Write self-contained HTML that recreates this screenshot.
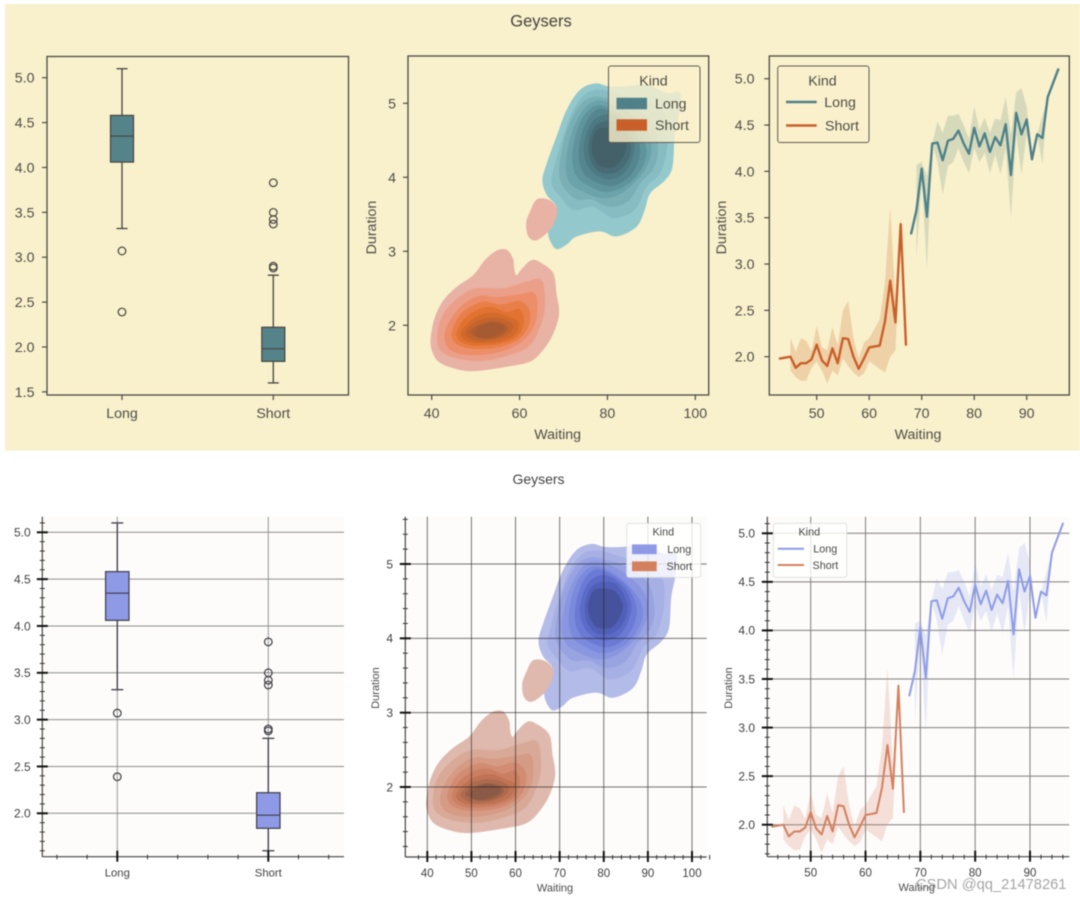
<!DOCTYPE html>
<html lang="en">
<head>
<meta charset="utf-8">
<title>Geysers</title>
<style>
html,body{margin:0;padding:0;background:#fff;width:1080px;height:899px;overflow:hidden}
svg{display:block;filter:blur(0.45px)}
text{font-family:"Liberation Sans",Arial,sans-serif}
</style>
</head>
<body>
<svg id="chart" xmlns="http://www.w3.org/2000/svg" width="1080" height="899" viewBox="0 0 1080 899">
  <rect x="0" y="0" width="1080" height="899" fill="#ffffff"/>
  <rect x="5" y="4" width="1075" height="446.5" fill="#f9f0cc"/>
  <text x="541" y="26.5" text-anchor="middle" font-size="16.5" fill="#44443f">Geysers</text>
  <text x="538.5" y="484" text-anchor="middle" font-size="14" fill="#444444">Geysers</text>
  <g id="top-box"></g>
  <g id="top-kde"></g>
  <g id="top-line"></g>
  <g id="bottom-box"></g>
  <g id="bottom-kde"></g>
  <g id="bottom-line"></g>
  <text x="916" y="889" font-size="14.7" fill="#8f8f8f" fill-opacity="0.8">CSDN @qq_21478261</text>
</svg>
<script>
/* ---------- data: box plot ---------- */
const boxCategories = ['Long', 'Short'];
const boxQ1 = [4.06, 1.84];
const boxMedian = [4.35, 1.98];
const boxQ3 = [4.58, 2.22];
const boxWhiskerLow = [3.32, 1.6];
const boxWhiskerHigh = [5.1, 2.8];
const boxOutliersLong = [3.07, 2.39];
const boxOutliersShort = [3.83, 3.5, 3.42, 3.37, 2.9, 2.88];

/* ---------- data: line plot ---------- */
const shortWaiting = [43, 45, 46, 47, 48, 49, 50, 51, 52, 53, 54, 55, 56, 57, 58, 59, 60, 62, 63, 64, 65, 66, 67];
const shortDuration = [1.98, 2.0, 1.88, 1.93, 1.93, 1.97, 2.13, 1.96, 1.9, 2.09, 1.93, 2.2, 2.19, 2.0, 1.87, 1.98, 2.1, 2.12, 2.38, 2.82, 2.37, 3.43, 2.13];
const shortBandWaiting = [45, 46, 47, 48, 49, 50, 51, 52, 53, 54, 55, 56, 57, 58, 59, 60, 62, 63, 64, 65, 66, 67];
const shortBandUpper = [2.2, 2.05, 2.2, 2.17, 2.06, 2.33, 2.1, 2.07, 2.32, 2.12, 2.5, 2.6, 2.2, 1.98, 2.15, 2.2, 2.4, 2.8, 3.62, 2.6, 3.5, 2.13];
const shortBandLower = [1.85, 1.78, 1.74, 1.74, 1.88, 1.95, 1.85, 1.71, 1.85, 1.8, 1.98, 1.9, 1.83, 1.78, 1.82, 1.95, 1.87, 1.83, 2.0, 2.07, 3.3, 2.13];
const longWaiting = [68, 69, 70, 71, 72, 73, 74, 75, 76, 77, 78, 79, 80, 81, 82, 83, 84, 85, 86, 87, 88, 89, 90, 91, 92, 93, 94, 96];
const longDuration = [3.33, 3.58, 4.03, 3.51, 4.3, 4.31, 4.12, 4.33, 4.35, 4.44, 4.3, 4.19, 4.47, 4.27, 4.41, 4.21, 4.37, 4.28, 4.51, 3.96, 4.63, 4.4, 4.56, 4.13, 4.4, 4.36, 4.8, 5.1];
const longBandWaiting = [69, 70, 71, 72, 73, 74, 75, 76, 77, 78, 79, 80, 81, 82, 83, 84, 85, 86, 87, 88, 89, 90, 91, 92, 93, 94];
const longBandUpper = [4.07, 4.1, 3.95, 4.3, 4.54, 4.42, 4.6, 4.6, 4.62, 4.5, 4.35, 4.7, 4.45, 4.58, 4.42, 4.57, 4.55, 4.8, 4.4, 4.85, 4.9, 4.7, 4.13, 4.4, 4.6, 4.8];
const longBandLower = [3.07, 3.9, 2.95, 4.3, 4.1, 3.75, 4.06, 4.1, 4.25, 4.1, 3.98, 4.25, 4.1, 4.2, 3.98, 4.18, 3.97, 4.25, 3.5, 4.4, 3.97, 4.4, 4.13, 4.4, 4.08, 4.8];

/* ---------- data: KDE contours as [waiting, duration] outlines, outermost first ---------- */
const kdeLongLevels = [
  [[68.4,3.03],[66.9,3.15],[66.5,3.29],[67.5,3.42],[68.4,3.6],[66.2,3.76],[65.2,3.96],[66.2,4.19],[68.4,4.55],[70.7,4.91],[73.7,5.18],[77.2,5.27],[80.2,5.23],[84.4,5.23],[88.9,5.25],[93.5,5.14],[96.5,5.14],[96.3,4.86],[95.3,4.55],[94.8,4.14],[93.1,3.96],[89.7,3.78],[88.5,3.56],[86.6,3.33],[82.1,3.2],[78.3,3.27],[73,3.2],[70.7,3.09]],
  [[72.2,3.56],[69.2,3.74],[67.3,3.92],[68.1,4.19],[69.9,4.55],[72.2,4.91],[75.3,5.14],[79,5.18],[84.4,5.09],[90.4,5],[93.5,4.77],[93.5,4.37],[91.9,4.05],[88.9,3.87],[86.2,3.56],[81.3,3.45],[76.8,3.6]],
  [[73,3.7],[70.2,3.85],[69,4.05],[69.6,4.35],[71.2,4.7],[73.8,4.98],[77,5.09],[81,5.05],[85.5,4.95],[90,4.75],[91.5,4.4],[90.5,4.12],[87.5,3.92],[84.8,3.68],[80.5,3.6],[76.5,3.7]],
  [[74,3.82],[71.5,3.92],[70.5,4.12],[71,4.4],[72.5,4.7],[75,4.95],[78,5.04],[82,4.97],[86,4.82],[89.3,4.6],[90,4.35],[88.7,4.12],[86,3.92],[82.5,3.76],[78.5,3.72]],
  [[75,3.91],[72.8,4.03],[72,4.25],[72.7,4.55],[74.5,4.82],[77.5,4.97],[81,4.92],[85,4.75],[88.3,4.5],[88.8,4.28],[87,4.05],[84,3.88],[79.5,3.8]],
  [[76,3.98],[74,4.12],[73.4,4.32],[74.2,4.6],[76,4.83],[78.5,4.93],[82,4.85],[85.5,4.68],[87.4,4.42],[86.8,4.18],[84.5,3.98],[80.5,3.88]],
  [[77,4.05],[75.3,4.18],[74.6,4.38],[75.3,4.6],[77,4.78],[80,4.85],[83,4.77],[85.5,4.6],[86.2,4.4],[85.2,4.18],[83,4.02],[80,3.97]],
  [[78,4.08],[76.2,4.22],[75.7,4.42],[76.5,4.62],[78,4.73],[80.5,4.76],[83,4.72],[85,4.52],[85.2,4.33],[84,4.17],[82,4.07],[80,4.05]],
  [[79.8,4.13],[78,4.17],[76.6,4.32],[76.6,4.5],[77.8,4.65],[80.2,4.67],[82.6,4.63],[84.3,4.45],[83.5,4.27],[81.8,4.15]]
];
const kdeShortLevels = [
  [[39.8,1.85],[40.8,2.12],[42.7,2.34],[45.7,2.52],[49.5,2.68],[52.1,2.88],[54.8,3.01],[57.1,3.02],[58.5,2.9],[58.8,2.76],[59.1,2.69],[59.5,2.68],[60.2,2.74],[62.7,2.88],[65,2.84],[67.7,2.7],[68.4,2.43],[69,2.16],[67.7,1.89],[65.4,1.67],[62.4,1.51],[57.1,1.44],[49.5,1.38],[44.9,1.42],[41.5,1.51],[40,1.67]],
  [[41.3,1.89],[42.7,2.16],[46.4,2.39],[50.2,2.5],[56.3,2.5],[61.6,2.59],[65,2.61],[65.8,2.3],[65,2.03],[62.4,1.73],[57.8,1.6],[51.8,1.52],[45.7,1.55],[41.9,1.67]],
  [[42.9,1.87],[44.5,2.1],[47.5,2.3],[51,2.4],[55,2.38],[60,2.42],[63.5,2.43],[64,2.15],[62.5,1.9],[59,1.72],[54,1.62],[48,1.6],[44,1.68]],
  [[44.5,1.88],[46,2.1],[48.5,2.24],[52,2.32],[56,2.28],[60,2.33],[62.3,2.2],[62,1.98],[59.5,1.8],[55,1.7],[49.5,1.68],[45.8,1.74]],
  [[45.6,1.88],[47,2.06],[50,2.2],[53.5,2.25],[57,2.18],[60,2.22],[61,2.05],[59.5,1.85],[55.5,1.75],[50,1.72],[46.8,1.77]],
  [[46.6,1.88],[48,2.02],[51,2.14],[54.5,2.17],[58,2.1],[59.8,2.04],[59,1.88],[55.5,1.78],[50.5,1.76],[47.6,1.8]],
  [[47.6,1.89],[49.5,2.03],[52.5,2.1],[56,2.09],[58.5,2],[57.5,1.88],[54,1.8],[50,1.79]],
  [[48.6,1.9],[50.5,2],[53.5,2.05],[56.5,2.02],[57.2,1.93],[55,1.84],[51.5,1.82]],
  [[49.8,1.92],[51.5,2],[54,2.04],[56.6,1.98],[55.8,1.9],[53,1.83],[50.5,1.84]]
];
const kdeShortIsland = [[63.9,3.7],[66.5,3.7],[68.4,3.6],[68.4,3.47],[66.9,3.29],[63.9,3.15],[62,3.2],[61.5,3.38],[62.4,3.54]];

/* ---------- tick labels ---------- */
const boxYTicks = ['1.5', '2.0', '2.5', '3.0', '3.5', '4.0', '4.5', '5.0'];
const lineYTicks = ['2.0', '2.5', '3.0', '3.5', '4.0', '4.5', '5.0'];
const lineXTicks = ['50', '60', '70', '80', '90'];
const kdeYTicks = ['2', '3', '4', '5'];
const kdeXTicksTop = ['40', '60', '80', '100'];
const kdeXTicksBottom = ['40', '50', '60', '70', '80', '90', '100'];

/* ---------- styling palettes ---------- */
const topLongKdeColors = ['#93c9cd','#86bcc2','#79afb5','#6ca2a9','#60949c','#55868f','#4d7982','#476c75','#44616a'];
const topShortKdeColors = ['#e8b2a4','#ec9f88','#ec8e6a','#e97f48','#e2722f','#d26a2c','#c2642c','#b25e2e','#a55a32'];
const botLongKdeColors = ['#b3bbe8','#a7b0e5','#98a3e2','#8a97e0','#7b8adc','#6b7ad4','#5c6ac8','#5060b8','#47529c'];
const botShortKdeColors = ['#dfb9ad','#d9a998','#d69b85','#d18c72','#cb7f62','#bf7354','#ad6a4e','#9a6048','#8a5a46'];

const NS = 'http://www.w3.org/2000/svg';
function svgEl(tag, parent, attrs) {
  const el = document.createElementNS(NS, tag);
  for (const k in attrs) el.setAttribute(k, attrs[k]);
  parent.appendChild(el);
  return el;
}
function linear(d0, r0, d1, r1) {
  return function (v) { return r0 + (v - d0) * (r1 - r0) / (d1 - d0); };
}
function range(start, stop, step) {
  const out = [];
  const n = Math.round((stop - start) / step);
  for (let i = 0; i <= n; i++) out.push(+(start + i * step).toFixed(4));
  return out;
}
function smoothClosed(pts) {
  const n = pts.length;
  let d = 'M' + pts[0][0].toFixed(2) + ' ' + pts[0][1].toFixed(2);
  for (let i = 0; i < n; i++) {
    const p0 = pts[(i - 1 + n) % n], p1 = pts[i], p2 = pts[(i + 1) % n], p3 = pts[(i + 2) % n];
    const c1x = p1[0] + (p2[0] - p0[0]) / 6, c1y = p1[1] + (p2[1] - p0[1]) / 6;
    const c2x = p2[0] - (p3[0] - p1[0]) / 6, c2y = p2[1] - (p3[1] - p1[1]) / 6;
    d += 'C' + c1x.toFixed(2) + ' ' + c1y.toFixed(2) + ' ' + c2x.toFixed(2) + ' ' + c2y.toFixed(2) + ' ' + p2[0].toFixed(2) + ' ' + p2[1].toFixed(2);
  }
  return d + 'Z';
}
function polyPath(xs, ys, sx, sy) {
  return xs.map(function (v, i) { return (i ? 'L' : 'M') + sx(v).toFixed(2) + ' ' + sy(ys[i]).toFixed(2); }).join('');
}
function bandPath(xs, up, lo, sx, sy) {
  let d = polyPath(xs, up, sx, sy);
  for (let i = xs.length - 1; i >= 0; i--) d += 'L' + sx(xs[i]).toFixed(2) + ' ' + sy(lo[i]).toFixed(2);
  return d + 'Z';
}

/* ---------- axis pieces ---------- */
function topFrame(g, f) {
  const el = svgEl('rect', g, {x: f.l, y: f.t, width: f.r - f.l, height: f.b - f.t, fill: 'none', stroke: '#4a4a45', 'stroke-width': 1.3});
  
  
}
function topXTick(g, f, px, label) {
  const t = svgEl('line', g, {x1: px, x2: px, y1: f.b, y2: f.b + 5, stroke: '#4a4a45', 'stroke-width': 1.2});
  
  
  const s = svgEl('text', g, {x: px, y: 418, 'text-anchor': 'middle', 'font-size': 14.2, fill: '#4e4e48'});
  
  
  s.textContent = label;
}
function topYTick(g, f, py, label, right) {
  const t = svgEl('line', g, {x1: f.l - 5, x2: f.l, y1: py, y2: py, stroke: '#4a4a45', 'stroke-width': 1.2});
  
  
  const s = svgEl('text', g, {x: right, y: py + 5, 'text-anchor': 'end', 'font-size': 14.2, fill: '#4e4e48'});
  
  
  s.textContent = label;
}
function botBackground(g, f) {
  const el = svgEl('rect', g, {x: f.l, y: f.t, width: f.r - f.l, height: f.b - f.t, fill: '#fdfcfa'});
  
  
}
function botGridX(g, f, px, color) {
  const el = svgEl('line', g, {x1: px, x2: px, y1: f.t, y2: f.b, stroke: color, 'stroke-width': 1});
  
  
}
function botGridY(g, f, py, color) {
  const el = svgEl('line', g, {x1: f.l, x2: f.r, y1: py, y2: py, stroke: color, 'stroke-width': 1});
  
  
}
function botSpines(g, f) {
  const a = svgEl('line', g, {x1: f.l, x2: f.l, y1: f.t, y2: f.b, stroke: '#444444', 'stroke-width': 1.2});
  
  
  const b = svgEl('line', g, {x1: f.l, x2: f.r, y1: f.b, y2: f.b, stroke: '#444444', 'stroke-width': 1.2});
  
  
}
function botXTick(g, f, px, label, fs) {
  const t = svgEl('line', g, {x1: px, x2: px, y1: f.b - 6, y2: f.b + 5, stroke: '#111', 'stroke-width': 2});
  
  
  const s = svgEl('text', g, {x: px, y: f.b + 20, 'text-anchor': 'middle', 'font-size': fs, fill: '#404040'});
  
  
  s.textContent = label;
}
function botYTick(g, f, py, label, right) {
  const t = svgEl('line', g, {x1: f.l - 5.5, x2: f.l + 5.5, y1: py, y2: py, stroke: '#111', 'stroke-width': 2});
  
  
  const s = svgEl('text', g, {x: right, y: py + 4.3, 'text-anchor': 'end', 'font-size': 12, fill: '#404040'});
  
  
  s.textContent = label;
}
function botMinorX(g, f, px) {
  const t = svgEl('line', g, {x1: px, x2: px, y1: f.b - 2, y2: f.b + 2.5, stroke: '#333', 'stroke-width': 1});
  
  
}
function botMinorY(g, f, py) {
  const t = svgEl('line', g, {x1: f.l - 2.5, x2: f.l + 2.5, y1: py, y2: py, stroke: '#333', 'stroke-width': 1});
  
  
}
function axisLabels(g, xCx, xY, yCx, yCy, fs, color) {
  const a = svgEl('text', g, {x: xCx, y: xY, 'text-anchor': 'middle', 'font-size': fs, fill: color});
  
  
  a.textContent = 'Waiting';
  const b = svgEl('text', g, {x: 0, y: 0, 'text-anchor': 'middle', 'font-size': fs, fill: color, transform: 'translate(' + yCx + ' ' + yCy + ') rotate(-90)'});
  
  
  b.textContent = 'Duration';
}

/* ---------- marks ---------- */
function drawBoxes(g, sx, sy, halfW, fill, whiskerHalf, outlineColor) {
  boxCategories.forEach(function (cat, i) {
    const cx = sx(i);
    const up = svgEl('line', g, {x1: cx, x2: cx, y1: sy(boxQ3[i]), y2: sy(boxWhiskerHigh[i]), stroke: outlineColor, 'stroke-width': 1.3});
    
    
    const low = svgEl('line', g, {x1: cx, x2: cx, y1: sy(boxQ1[i]), y2: sy(boxWhiskerLow[i]), stroke: outlineColor, 'stroke-width': 1.3});
    
    
    const capU = svgEl('line', g, {x1: cx - whiskerHalf, x2: cx + whiskerHalf, y1: sy(boxWhiskerHigh[i]), y2: sy(boxWhiskerHigh[i]), stroke: outlineColor, 'stroke-width': 1.3});
    
    
    const capL = svgEl('line', g, {x1: cx - whiskerHalf, x2: cx + whiskerHalf, y1: sy(boxWhiskerLow[i]), y2: sy(boxWhiskerLow[i]), stroke: outlineColor, 'stroke-width': 1.3});
    
    
    const box = svgEl('rect', g, {x: cx - halfW, y: sy(boxQ3[i]), width: halfW * 2, height: sy(boxQ1[i]) - sy(boxQ3[i]), fill: fill, stroke: outlineColor, 'stroke-width': 1.2});
    
    
    const med = svgEl('line', g, {x1: cx - halfW, x2: cx + halfW, y1: sy(boxMedian[i]), y2: sy(boxMedian[i]), stroke: outlineColor, 'stroke-width': 1.2});
    
    
    const outs = i === 0 ? boxOutliersLong : boxOutliersShort;
    outs.forEach(function (v) {
      const c = svgEl('circle', g, {cx: cx, cy: sy(v), r: 3.8, fill: 'none', stroke: outlineColor, 'stroke-width': 1.2});
      
      
    });
  });
}
function drawKde(g, sx, sy, longColors, shortColors) {
  const project = function (o) { return o.map(function (p) { return [sx(p[0]), sy(p[1])]; }); };
  kdeLongLevels.forEach(function (outline, i) {
    const p = svgEl('path', g, {d: smoothClosed(project(outline)), fill: longColors[i]});
    
    
  });
  const isl = svgEl('path', g, {d: smoothClosed(project(kdeShortIsland)), fill: shortColors[0]});
  
  
  kdeShortLevels.forEach(function (outline, i) {
    const p = svgEl('path', g, {d: smoothClosed(project(outline)), fill: shortColors[i]});
    
    
  });
}
function drawLines(g, sx, sy, c) {
  const b1 = svgEl('path', g, {d: bandPath(longBandWaiting, longBandUpper, longBandLower, sx, sy), fill: c.longBand});
  
  
  const b2 = svgEl('path', g, {d: bandPath(shortBandWaiting, shortBandUpper, shortBandLower, sx, sy), fill: c.shortBand});
  
  
  const l1 = svgEl('path', g, {d: polyPath(longWaiting, longDuration, sx, sy), fill: 'none', stroke: c.long, 'stroke-width': c.width, 'stroke-linejoin': 'round', 'stroke-linecap': 'round'});
  
  
  const l2 = svgEl('path', g, {d: polyPath(shortWaiting, shortDuration, sx, sy), fill: 'none', stroke: c.short, 'stroke-width': c.width, 'stroke-linejoin': 'round', 'stroke-linecap': 'round'});
  
  
}

/* ---------- legend ---------- */
function drawLegend(g, o) {
  const lg = svgEl('g', g, {});
  
  
  const box = svgEl('rect', lg, {x: o.x, y: o.y, width: o.w, height: o.h, rx: 2.5, fill: o.bg, 'fill-opacity': o.alpha, stroke: o.edge, 'stroke-width': o.edgeW});
  
  
  const title = svgEl('text', lg, {x: o.titleX, y: o.titleY, 'text-anchor': 'middle', 'font-size': o.fs, fill: o.text});
  
  
  title.textContent = 'Kind';
  boxCategories.forEach(function (cat, i) {
    const mark = o.patch
      ? svgEl('rect', lg, {x: o.mx, y: o.ys[i] - o.ph / 2, width: o.mw, height: o.ph, fill: o.colors[i]})
      : svgEl('line', lg, {x1: o.mx, x2: o.mx + o.mw, y1: o.ys[i], y2: o.ys[i], stroke: o.colors[i], 'stroke-width': o.lw});
    
    
    const t = svgEl('text', lg, {x: o.lx[i], y: o.ys[i] + o.fs * 0.36, 'font-size': o.fs, fill: o.text});
    
    
    t.textContent = cat;
  });
}

/* ---------- top row ---------- */
(function () {
  const g = document.getElementById('top-box');
  const f = {l: 47, r: 348.5, t: 56.5, b: 395};
  const sx = linear(0, 122, 1, 273.3), sy = linear(2, 347, 5, 77.7);
  drawBoxes(g, sx, sy, 11.5, '#55838a', 5.5, '#44443f');
  topFrame(g, f);
  boxCategories.forEach(function (c, i) { topXTick(g, f, sx(i), c); });
  boxYTicks.forEach(function (t) { topYTick(g, f, sy(+t), t, 34.5); });
})();
(function () {
  const g = document.getElementById('top-kde');
  const f = {l: 408, r: 708.7, t: 56, b: 395};
  const sx = linear(40, 431.7, 100, 695.3), sy = linear(2, 325.3, 5, 103.3);
  drawKde(g, sx, sy, topLongKdeColors, topShortKdeColors);
  topFrame(g, f);
  kdeXTicksTop.forEach(function (t) { topXTick(g, f, sx(+t), t); });
  kdeYTicks.forEach(function (t) { topYTick(g, f, sy(+t), t, 396); });
  axisLabels(g, 557.7, 439, 376, 227.5, 14.2, '#4e4e48');
  drawLegend(g, {x: 608.5, y: 66, w: 91.5, h: 76.5, bg: '#faf0cc', alpha: 0.8, edge: '#5c5c55', edgeW: 1, titleX: 653.5, titleY: 85.5, fs: 14.2, text: '#4e4e48', patch: true, mx: 616.5, mw: 30.5, ph: 11.5, ys: [103.5, 125], lx: [655, 655], colors: ['#50818a', '#c9602a']});
})();
(function () {
  const g = document.getElementById('top-line');
  const f = {l: 769.3, r: 1069.3, t: 56, b: 395};
  const sx = linear(50, 816.7, 90, 1026.7), sy = linear(2, 356.7, 5, 78.7);
  drawLines(g, sx, sy, {long: '#4f8189', short: '#c9602a', longBand: '#d6dabb', shortBand: '#eed1a6', width: 2.4});
  topFrame(g, f);
  lineXTicks.forEach(function (t) { topXTick(g, f, sx(+t), t); });
  lineYTicks.forEach(function (t) { topYTick(g, f, sy(+t), t, 754.5); });
  axisLabels(g, 918, 439, 726, 227.5, 14.2, '#4e4e48');
  drawLegend(g, {x: 777.7, y: 66, w: 91.3, h: 76.5, bg: '#faf0cc', alpha: 0.8, edge: '#5c5c55', edgeW: 1, titleX: 822.5, titleY: 85.5, fs: 14.2, text: '#4e4e48', patch: false, mx: 786, mw: 30.7, lw: 2.4, ys: [102, 125.5], lx: [824.3, 825], colors: ['#4f8189', '#c9602a']});
})();

/* ---------- bottom row ---------- */
(function () {
  const g = document.getElementById('bottom-box');
  const f = {l: 42.3, r: 344, t: 516.7, b: 856.7};
  const sx = linear(0, 117.3, 1, 268.3), sy = linear(2, 813.3, 5, 532.3);
  botBackground(g, f);
  boxCategories.forEach(function (c, i) { botGridX(g, f, sx(i), '#969696'); });
  boxYTicks.forEach(function (t) { if (+t >= 2) botGridY(g, f, sy(+t), '#8c8c8c'); });
  drawBoxes(g, sx, sy, 11.7, '#8e9ae6', 6, '#3c3c46');
  botSpines(g, f);
  range(-0.4, 1.4, 0.2).forEach(function (v) { botMinorX(g, f, sx(v)); });
  range(1.6, 5.1, 0.1).forEach(function (v) { botMinorY(g, f, sy(v)); });
  boxCategories.forEach(function (c, i) { botXTick(g, f, sx(i), c, 11.3); });
  boxYTicks.forEach(function (t) { if (+t >= 2) botYTick(g, f, sy(+t), t, 30.7); });
})();
(function () {
  const g = document.getElementById('bottom-kde');
  const f = {l: 405.3, r: 706.7, t: 516.7, b: 857};
  const sx = linear(40, 427.3, 100, 692), sy = linear(2, 787, 5, 564);
  botBackground(g, f);
  drawKde(g, sx, sy, botLongKdeColors, botShortKdeColors);
  kdeXTicksBottom.forEach(function (t) { botGridX(g, f, sx(+t), 'rgba(30,30,30,0.62)'); });
  kdeYTicks.forEach(function (t) { botGridY(g, f, sy(+t), 'rgba(30,30,30,0.62)'); });
  botSpines(g, f);
  range(38, 104, 2).forEach(function (v) { botMinorX(g, f, sx(v)); });
  range(1.2, 5.6, 0.2).forEach(function (v) { botMinorY(g, f, sy(v)); });
  kdeXTicksBottom.forEach(function (t) { botXTick(g, f, sx(+t), t, 11.5); });
  kdeYTicks.forEach(function (t) { botYTick(g, f, sy(+t), t, 393); });
  axisLabels(g, 555, 891.5, 379, 688, 11, '#4c4c4c');
  drawLegend(g, {x: 626.7, y: 523.3, w: 74, h: 54, bg: '#ffffff', alpha: 0.8, edge: '#dcdcdc', edgeW: 0.8, titleX: 663.3, titleY: 535.5, fs: 10.8, text: '#484848', patch: true, mx: 632, mw: 24.7, ph: 9.8, ys: [549.3, 566.3], lx: [667.3, 666.5], colors: ['#8e9ae6', '#d4805f']});
})();
(function () {
  const g = document.getElementById('bottom-line');
  const f = {l: 767.3, r: 1069.3, t: 516.7, b: 856.7};
  const sx = linear(50, 810.7, 90, 1030), sy = linear(2, 824.7, 5, 533.3);
  botBackground(g, f);
  lineXTicks.forEach(function (t) { botGridX(g, f, sx(+t), '#7e7e7e'); });
  lineYTicks.forEach(function (t) { botGridY(g, f, sy(+t), '#7e7e7e'); });
  drawLines(g, sx, sy, {long: '#8e9ce8', short: '#d4805f', longBand: 'rgba(142,156,232,0.2)', shortBand: 'rgba(212,128,95,0.22)', width: 2});
  botSpines(g, f);
  range(44, 96, 2).forEach(function (v) { botMinorX(g, f, sx(v)); });
  range(1.7, 5.1, 0.1).forEach(function (v) { botMinorY(g, f, sy(v)); });
  lineXTicks.forEach(function (t) { botXTick(g, f, sx(+t), t, 11.5); });
  lineYTicks.forEach(function (t) { botYTick(g, f, sy(+t), t, 755); });
  axisLabels(g, 916.7, 891, 732, 688, 11, '#4c4c4c');
  drawLegend(g, {x: 773.3, y: 523.3, w: 73.4, h: 54, bg: '#ffffff', alpha: 0.8, edge: '#dcdcdc', edgeW: 0.8, titleX: 809.3, titleY: 535.5, fs: 10.8, text: '#484848', patch: false, mx: 777.7, mw: 26.3, lw: 2, ys: [548.7, 565], lx: [813.3, 812.5], colors: ['#8e9ce8', '#d4805f']});
})();
</script>
</body>
</html>
